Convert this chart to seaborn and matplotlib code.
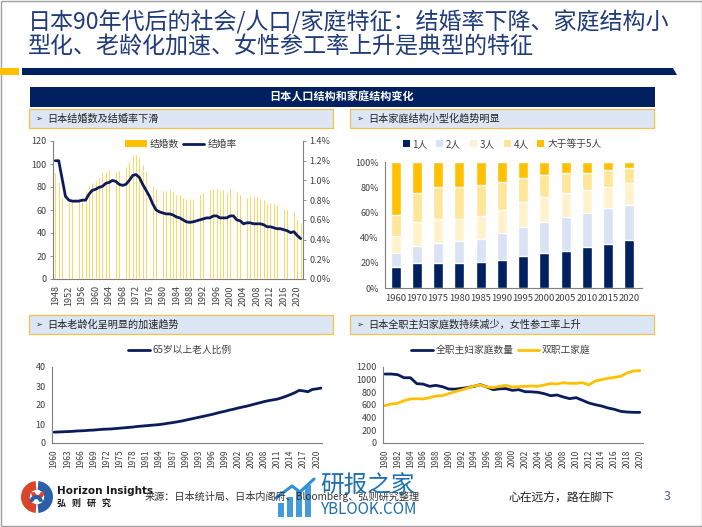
import matplotlib
matplotlib.use('Agg')
import matplotlib.pyplot as plt
import matplotlib.ticker as mticker
from matplotlib.patches import Rectangle, Polygon, Patch, Wedge, Circle
from matplotlib.lines import Line2D
import seaborn as sns

sns.set_theme(style="white")
plt.rcParams['font.family'] = ['Noto Sans CJK SC', 'DejaVu Sans']
plt.rcParams['axes.unicode_minus'] = False

# --- data ---
marr_years = list(range(1948, 2022))
marr_count = [93, 84, 71.5, 67, 67.5, 68, 70, 71.5, 71.5, 77,
              81.5, 84.5, 86.5, 89, 93, 93.5, 96, 95.5, 94, 95,
              95.5, 98.5, 102.5, 108.5, 109, 107, 100, 94, 87, 82,
              79, 79, 77.5, 77.5, 78, 76.5, 74, 73.5, 71, 69.5,
              70.5, 70.5, 72, 74, 75.5, 79, 78, 79, 79.5, 77.5,
              78.5, 76, 79.5, 80, 75.5, 74, 72, 71.5, 73, 72,
              72.5, 70.5, 70, 66, 67, 66, 64.5, 63.5, 62, 60.5,
              58.5, 59.5, 52.5, 50]
marr_rate = [1.20, 1.20, 1.02, 0.84, 0.80, 0.79, 0.79, 0.79, 0.80, 0.80,
             0.86, 0.90, 0.91, 0.93, 0.94, 0.97, 0.98, 1.00, 0.99, 0.96,
             0.95, 0.96, 1.00, 1.05, 1.06, 1.03, 0.96, 0.90, 0.84, 0.76,
             0.70, 0.68, 0.67, 0.66, 0.66, 0.65, 0.63, 0.62, 0.60, 0.58,
             0.575, 0.58, 0.59, 0.60, 0.61, 0.62, 0.62, 0.64, 0.64, 0.62,
             0.62, 0.62, 0.64, 0.64, 0.60, 0.59, 0.56, 0.57, 0.57, 0.56,
             0.56, 0.56, 0.55, 0.53, 0.53, 0.52, 0.51, 0.51, 0.50, 0.49,
             0.47, 0.48, 0.44, 0.41]

hh_years = ['1960', '1970', '1975', '1980', '1985', '1990',
            '1995', '2000', '2005', '2010', '2015', '2020']
hh_labels = ['1人', '2人', '3人', '4人', '大于等于5人']
hh_1 = [17, 20, 19.6, 19.8, 20.6, 22.5, 25.6, 27.6, 29.5, 32.4, 34.6, 38.0]
hh_2 = [11, 13.6, 16.1, 17.2, 18, 21.4, 23.1, 25.1, 26.6, 27.2, 28.6, 28.0]
hh_3 = [13.5, 18.8, 19.3, 17.8, 18.3, 18, 19.5, 19.4, 19.3, 17.9, 17.0, 17.1]
hh_4 = [16.7, 22.7, 25.2, 25.2, 24.6, 22.2, 19.1, 17.3, 15.7, 13.9, 13.7, 12.4]
hh_5 = [41.8, 24.9, 19.8, 20.0, 18.5, 15.9, 12.7, 10.6, 8.9, 8.6, 6.1, 4.5]

age_years = list(range(1960, 2022))
age_65 = [5.7, 5.8, 5.9, 6.0, 6.1, 6.3, 6.4, 6.5, 6.7, 6.8,
          7.0, 7.2, 7.3, 7.4, 7.6, 7.8, 8.0, 8.2, 8.4, 8.7,
          8.9, 9.1, 9.3, 9.5, 9.7, 10.0, 10.4, 10.7, 11.1, 11.5,
          12.0, 12.5, 13.0, 13.5, 14.0, 14.5, 15.0, 15.6, 16.2, 16.7,
          17.3, 17.8, 18.4, 18.9, 19.4, 20.0, 20.6, 21.2, 21.8, 22.3,
          22.7, 23.1, 23.8, 24.6, 25.5, 26.5, 27.7, 27.4, 27.0, 28.2,
          28.5, 28.9]

work_years = list(range(1980, 2021))
housewife = [1089, 1089, 1079, 1030, 1031, 937, 930, 895, 910, 890,
             853, 850, 862, 875, 895, 921, 884, 842, 855, 858,
             831, 842, 810, 808, 800, 779, 747, 758, 726, 700,
             716, 674, 632, 605, 584, 553, 532, 500, 489, 484,
             484]
dual_income = [589, 616, 626, 668, 695, 700, 695, 716, 742, 747,
               779, 810, 837, 868, 900, 916, 884, 874, 895, 910,
               884, 889, 895, 900, 895, 916, 937, 932, 953, 942,
               942, 953, 916, 979, 1000, 1021, 1037, 1053, 1105, 1137,
               1142]

# --- styling ---
W, H = 702, 527
NAVY = '#0B1C5A'
HEAD = '#002060'
GOLD = '#FFC000'
TITLE_C = '#1F3B7A'
BOX_FILL = '#DCE6F4'
BOX_EDGE = '#F2C14E'
SPINE = '#7F7F7F'
TXT = '#404040'
hh_colors = [HEAD, '#DAE3F3', '#FFF2CC', '#FFE699', GOLD]


def fx(x):
    return x / W


def fy(y):
    return 1 - y / H


def ax_rect(x0, y0, x1, y1):
    return [fx(x0), fy(y1), (x1 - x0) / W, (y1 - y0) / H]


def style_axes(ax, right=False):
    for s in ['top', 'right', 'left', 'bottom']:
        ax.spines[s].set_visible(False)
    ax.spines['bottom'].set_visible(True)
    ax.spines['left' if not right else 'right'].set_visible(True)
    for s in ax.spines.values():
        s.set_color(SPINE)
        s.set_linewidth(0.8)
    ax.tick_params(axis='both', which='both', colors=SPINE, labelcolor=TXT,
                   labelsize=6.5, length=2.5, width=0.6, pad=2)
    ax.set_xlabel('')
    ax.set_ylabel('')


fig = plt.figure(figsize=(7.02, 5.27), dpi=100)
fig.patch.set_facecolor('white')

# slide frame
fig.add_artist(Rectangle((fx(0.5), fy(526)), 701 / W, 525.5 / H, transform=fig.transFigure,
                         fill=False, edgecolor='#A0A0A0', linewidth=1))

# title
fig.text(fx(28), fy(22), '日本90年代后的社会/人口/家庭特征：结婚率下降、家庭结构小',
         fontsize=16.6, color=TITLE_C, va='center', ha='left')
fig.text(fx(28), fy(47), '型化、老龄化加速、女性参工率上升是典型的特征',
         fontsize=16.6, color=TITLE_C, va='center', ha='left')

# divider
fig.add_artist(Rectangle((0, fy(75)), fx(19), 7 / H, transform=fig.transFigure,
                         facecolor=GOLD, edgecolor='none'))
fig.add_artist(Polygon([(fx(22), fy(68)), (fx(673), fy(68)), (fx(677), fy(75)), (fx(22), fy(75))],
                       closed=True, transform=fig.transFigure, facecolor=HEAD, edgecolor='none'))

# header bar
fig.add_artist(Rectangle((fx(30), fy(107)), 625 / W, 20 / H, transform=fig.transFigure,
                         facecolor=HEAD, edgecolor='none'))
fig.text(fx(342), fy(97), '日本人口结构和家庭结构变化', fontsize=8, color='white',
         fontweight='bold', ha='center', va='center')


def sub_box(x0, y0, x1, y1, text):
    fig.add_artist(Rectangle((fx(x0), fy(y1)), (x1 - x0) / W, (y1 - y0) / H,
                             transform=fig.transFigure, facecolor=BOX_FILL,
                             edgecolor=BOX_EDGE, linewidth=0.9))
    fig.text(fx(x0 + 6), fy((y0 + y1) / 2), '➢', fontsize=6, color='#333333',
             ha='left', va='center', family=['DejaVu Sans'])
    fig.text(fx(x0 + 18), fy((y0 + y1) / 2), text, fontsize=7.3, color='#222222',
             ha='left', va='center')


sub_box(29, 109, 333, 128, '日本结婚数及结婚率下滑')
sub_box(350, 109, 654, 128, '日本家庭结构小型化趋势明显')
sub_box(29, 315, 333, 334, '日本老龄化呈明显的加速趋势')
sub_box(350, 315, 654, 334, '日本全职主妇家庭数持续减少，女性参工率上升')

# --- chart 1: marriages ---
ax1 = fig.add_axes(ax_rect(53, 141, 303, 279))
sns.barplot(x=marr_years, y=marr_count, native_scale=True, color=GOLD,
            saturation=1, width=0.55, ax=ax1)
ax1.set_xlim(1947.3, 2021.7)
ax1.set_ylim(0, 120)
ax1.set_yticks(range(0, 121, 20))
ax1.set_xticks(range(1948, 2021, 4))
ax1.set_xticks(marr_years, minor=True)
ax1.set_xticklabels([str(y) for y in range(1948, 2021, 4)], rotation=90, fontsize=6)
style_axes(ax1)
ax2 = ax1.twinx()
sns.lineplot(x=marr_years, y=marr_rate, color=NAVY, linewidth=2, ax=ax2)
ax2.set_ylim(0, 1.4)
ax2.set_yticks([i * 0.2 for i in range(8)])
ax2.yaxis.set_major_formatter(mticker.FuncFormatter(lambda v, p: f'{v:.1f}%'))
style_axes(ax2, right=True)
ax2.spines['bottom'].set_visible(False)
ax1.legend(handles=[Patch(facecolor=GOLD, edgecolor='none', label='结婚数'),
                    Line2D([], [], color=NAVY, lw=2, label='结婚率')],
           loc='center', bbox_to_anchor=(fx(181), fy(144)), bbox_transform=fig.transFigure,
           ncol=2, frameon=False, fontsize=7, handlelength=2.2, handleheight=0.7,
           handletextpad=0.3, columnspacing=0.4, labelcolor=TXT)

# --- chart 2: household size ---
ax3 = fig.add_axes(ax_rect(385, 162, 642, 288))
groups = [hh_1, hh_2, hh_3, hh_4, hh_5]
for k in range(len(groups) - 1, -1, -1):
    cum = [sum(vals) for vals in zip(*groups[:k + 1])]
    sns.barplot(x=hh_years, y=cum, color=hh_colors[k], saturation=1, width=0.47, ax=ax3)
ax3.set_ylim(0, 100)
ax3.set_xlim(-0.5, len(hh_years) - 0.4)
ax3.set_yticks(range(0, 101, 20))
ax3.yaxis.set_major_formatter(mticker.FuncFormatter(lambda v, p: f'{v:.0f}%'))
style_axes(ax3)
ax3.tick_params(axis='x', length=0, labelsize=6.8, pad=4)
ax3.legend(handles=[Patch(facecolor=c, edgecolor='none', label=l) for c, l in zip(hh_colors, hh_labels)],
           loc='center', bbox_to_anchor=(fx(502), fy(144)), bbox_transform=fig.transFigure,
           ncol=5, frameon=False, fontsize=7, handlelength=0.7, handleheight=0.7,
           handletextpad=0.3, columnspacing=0.9, labelcolor=TXT)

# --- chart 3: ageing ---
ax4 = fig.add_axes(ax_rect(52, 367, 322, 443))
sns.lineplot(x=age_years, y=age_65, color=NAVY, linewidth=2, ax=ax4)
ax4.set_xlim(1959.5, 2021.2)
ax4.set_ylim(0, 40)
ax4.set_yticks(range(0, 41, 10))
ax4.set_xticks(range(1960, 2021, 3))
ax4.set_xticks(age_years, minor=True)
ax4.set_xticklabels([str(y) for y in range(1960, 2021, 3)], rotation=90)
style_axes(ax4)
ax4.tick_params(axis='x', labelsize=6)
ax4.legend(handles=[Line2D([], [], color=NAVY, lw=2, label='65岁以上老人比例')],
           loc='center', bbox_to_anchor=(fx(180), fy(350)), bbox_transform=fig.transFigure,
           frameon=False, fontsize=7, handlelength=2.2, handletextpad=0.3, labelcolor=TXT)

# --- chart 4: housewives vs dual income ---
ax5 = fig.add_axes(ax_rect(383, 367, 643, 443))
sns.lineplot(x=work_years, y=housewife, color=NAVY, linewidth=2, ax=ax5)
sns.lineplot(x=work_years, y=dual_income, color=GOLD, linewidth=2, ax=ax5)
ax5.set_xlim(1979.7, 2020.5)
ax5.set_ylim(0, 1200)
ax5.set_yticks(range(0, 1201, 200))
ax5.set_xticks(range(1980, 2021, 2))
ax5.set_xticks(work_years, minor=True)
ax5.set_xticklabels([str(y) for y in range(1980, 2021, 2)], rotation=90)
style_axes(ax5)
ax5.tick_params(axis='x', labelsize=6)
ax5.legend(handles=[Line2D([], [], color=NAVY, lw=2, label='全职主妇家庭数量'),
                    Line2D([], [], color=GOLD, lw=2, label='双职工家庭')],
           loc='center', bbox_to_anchor=(fx(501), fy(350)), bbox_transform=fig.transFigure,
           ncol=2, frameon=False, fontsize=7, handlelength=2.2, handletextpad=0.3,
           columnspacing=0.4, labelcolor=TXT)

# --- footer ---
lax = fig.add_axes(ax_rect(21, 481, 53, 513))
lax.set_xlim(-1, 1)
lax.set_ylim(-1, 1)
lax.set_aspect('equal')
lax.axis('off')
lax.add_patch(Wedge((0, 0), 1, 95, 265, width=0.55, facecolor='#D8452B', edgecolor='none'))
lax.add_patch(Wedge((0, 0), 1, 275, 85, width=0.55, facecolor='#2D5FA8', edgecolor='none'))
lax.add_patch(Wedge((0.05, 0.3), 0.42, 180, 360, width=0.25, facecolor='#D8452B', edgecolor='none'))
lax.add_patch(Wedge((-0.05, -0.3), 0.42, 0, 180, width=0.25, facecolor='#2D5FA8', edgecolor='none'))

fig.text(fx(57), fy(491), 'Horizon Insights', fontsize=7.5, fontweight='bold',
         color='#1A1A1A', ha='left', va='center', family=['Liberation Sans Narrow', 'DejaVu Sans'])
fig.text(fx(57), fy(503), '弘   则   研   究', fontsize=6.5, fontweight='bold',
         color='#1A1A1A', ha='left', va='center')
fig.text(fx(145), fy(497), '来源：日本统计局、日本内阁府、Bloomberg、弘则研究整理',
         fontsize=7.3, color='#333333', ha='left', va='center')
fig.text(fx(508), fy(497), '心在远方，路在脚下', fontsize=8.5, color='#222222',
         ha='left', va='center', fontstyle='italic')
fig.text(fx(664), fy(497), '3', fontsize=9, color='#4A5E8A', ha='left', va='center')

# watermark
for i, hgt in enumerate([14, 20, 26, 32]):
    fig.add_artist(Rectangle((fx(278 + i * 9), fy(517)), 6 / W, hgt / H,
                             transform=fig.transFigure, facecolor='#2F8FD8',
                             edgecolor='none', alpha=0.9))
fig.add_artist(Line2D([fx(276), fx(292), fx(300), fx(314)], [fy(498), fy(486), fy(492), fy(479)],
                      transform=fig.transFigure, color='#2F8FD8', lw=2.2))
fig.text(fx(320), fy(485), '研报之家', fontsize=17, color='#1D6FB0', ha='left', va='center')
fig.text(fx(321), fy(509), 'YBLOOK.COM', fontsize=11, color='#1D6FB0', ha='left', va='center')

fig.savefig('out.png', dpi=100, facecolor='white')
